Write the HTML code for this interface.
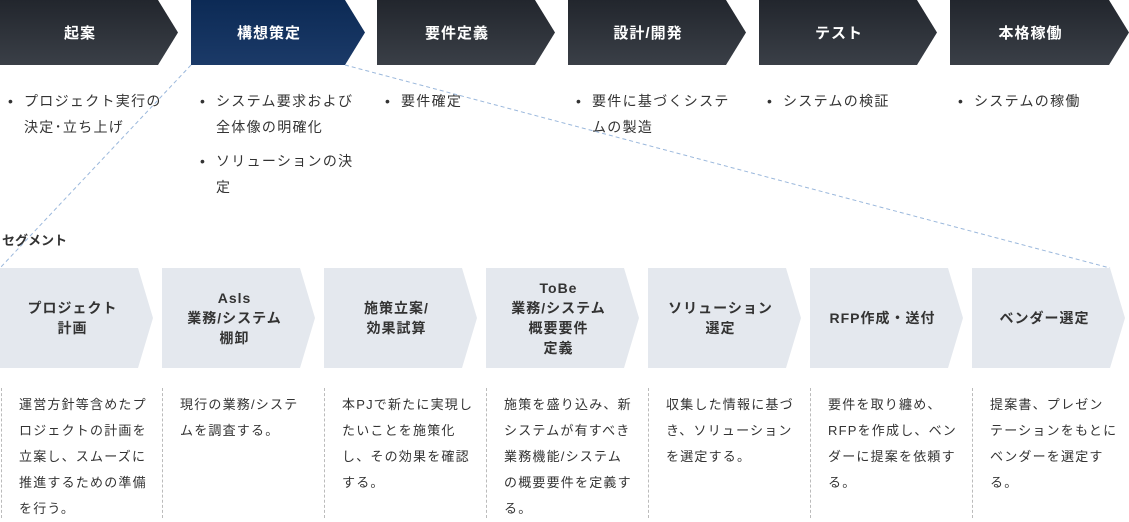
<!DOCTYPE html>
<html><head><meta charset="utf-8"><style>
*{margin:0;padding:0;box-sizing:border-box}
body{width:1129px;height:518px;background:#fff;position:relative;overflow:hidden;font-family:"Liberation Sans","Noto Sans CJK JP",sans-serif;color:#333;line-break:strict}
.t{position:absolute;top:0;height:65px;color:#fff;font-weight:bold;font-size:15px;letter-spacing:1px;display:flex;align-items:center;justify-content:center;padding-right:18px;clip-path:polygon(0 0,calc(100% - 20px) 0,100% 50%,calc(100% - 20px) 100%,0 100%);background:linear-gradient(#22262d,#3a3f47)}
.t.a{background:linear-gradient(#0c2a55,#1b3a68)}
ul{position:absolute;top:88px;list-style:none;font-size:14px;letter-spacing:1.3px;line-height:26px}
ul li{position:relative;padding-left:16px;margin-bottom:8px}
ul li:before{content:"•";position:absolute;left:0}
.b{position:absolute;top:268px;height:100px;width:153px;background:#e4e8ee;clip-path:polygon(0 0,138px 0,153px 50%,138px 100%,0 100%);display:flex;align-items:center;justify-content:center;text-align:center;font-size:14px;letter-spacing:1px;font-weight:bold;line-height:20px;padding-right:8px;color:#333}
.d{position:absolute;top:388px;height:130px;border-left:1px dashed #bbb;width:150px;padding:4px 0 0 17px;font-size:13px;letter-spacing:1.2px;line-height:26px;line-break:strict}
</style></head><body>
<div class="t" style="left:0;width:178px">起案</div>
<div class="t a" style="left:191px;width:174px">構想策定</div>
<div class="t" style="left:377px;width:178px">要件定義</div>
<div class="t" style="left:568px;width:178px">設計/開発</div>
<div class="t" style="left:759px;width:178px">テスト</div>
<div class="t" style="left:950px;width:179px">本格稼働</div>
<ul style="left:8px;width:162px"><li>プロジェクト実行の決定･立ち上げ</li></ul>
<ul style="left:200px;width:162px"><li>システム要求および全体像の明確化</li><li>ソリューションの決定</li></ul>
<ul style="left:385px;width:162px"><li>要件確定</li></ul>
<ul style="left:576px;width:162px"><li>要件に基づくシステムの製造</li></ul>
<ul style="left:767px;width:162px"><li>システムの検証</li></ul>
<ul style="left:958px;width:162px"><li>システムの稼働</li></ul>
<svg style="position:absolute;left:0;top:0" width="1129" height="518"><g stroke="#9bb8dc" stroke-width="1" stroke-dasharray="4,3" fill="none"><line x1="191" y1="65" x2="0" y2="268"/><line x1="345" y1="65" x2="1110" y2="268"/></g></svg>
<div style="position:absolute;left:2px;top:230px;font-size:13px;font-weight:bold">セグメント</div>
<div class="b" style="left:0">プロジェクト<br>計画</div>
<div class="b" style="left:162px">Asls<br>業務/システム<br>棚卸</div>
<div class="b" style="left:324px">施策立案/<br>効果試算</div>
<div class="b" style="left:486px">ToBe<br>業務/システム<br>概要要件<br>定義</div>
<div class="b" style="left:648px">ソリューション<br>選定</div>
<div class="b" style="left:810px">RFP作成・送付</div>
<div class="b" style="left:972px">ベンダー選定</div>
<div class="d" style="left:1px">運営方針等含めたプロジェクトの計画を立案し、スムーズに推進するための準備を行う。</div>
<div class="d" style="left:162px">現行の業務/システムを調査する。</div>
<div class="d" style="left:324px">本PJで新たに実現したいことを施策化し、その効果を確認する。</div>
<div class="d" style="left:486px">施策を盛り込み、新システムが有すべき業務機能/システムの概要要件を定義する。</div>
<div class="d" style="left:648px">収集した情報に基づき、ソリューションを選定する。</div>
<div class="d" style="left:810px">要件を取り纏め、RFPを作成し、ベンダーに提案を依頼する。</div>
<div class="d" style="left:972px">提案書、プレゼン<br>テーションをもとに<br>ベンダーを選定する。</div>
</body></html>
